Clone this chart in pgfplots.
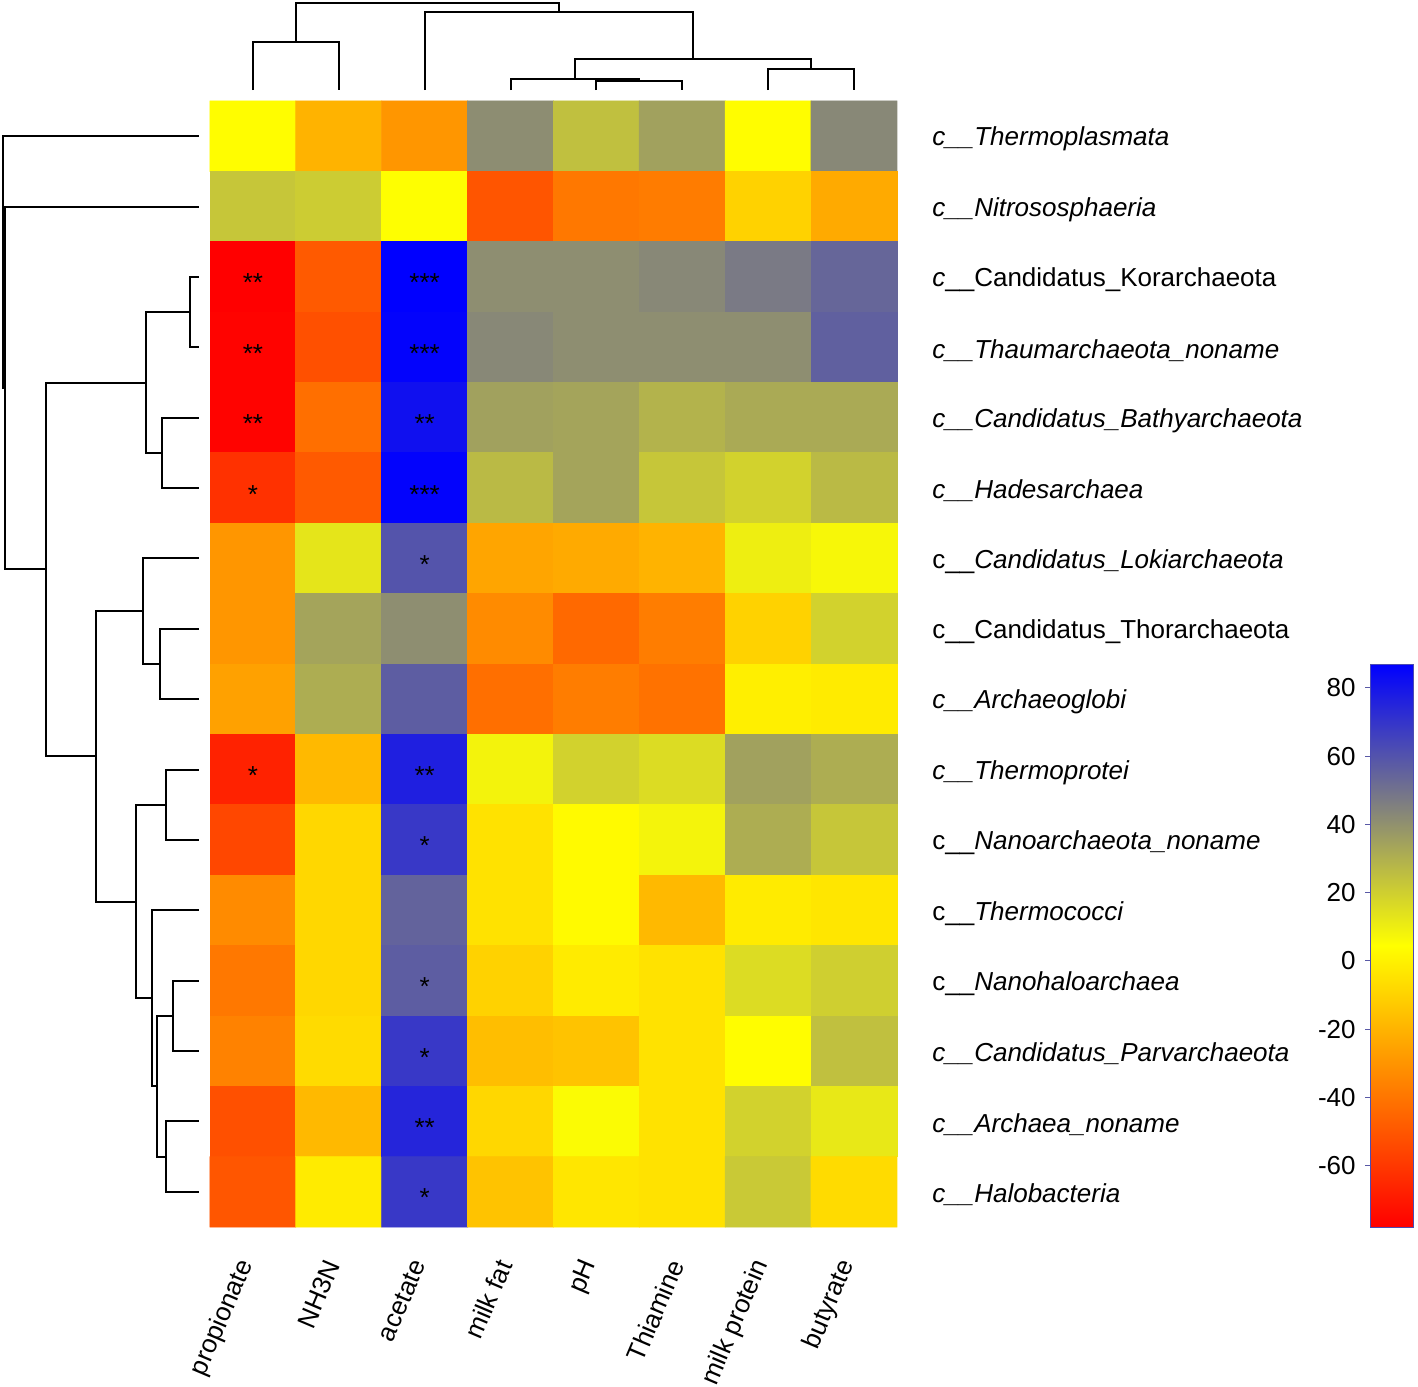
\documentclass[border=0pt]{standalone}
\usepackage{fontspec}
\setmainfont{Liberation Sans}
\usepackage{pgfplots}
\usepackage{pgfplotstable}
\pgfplotsset{compat=1.18}

% correlation matrix: x = column (variable), y = row (class)
\pgfplotstableread{
x y v
0 0 4
1 0 -20
2 0 -29.5
3 0 41.5
4 0 25
5 0 35
6 0 4
7 0 43
0 1 23
1 1 21
2 1 5
3 1 -50.5
4 1 -39
5 1 -38
6 1 -10
7 1 -23
0 2 -78
1 2 -49
2 2 87
3 2 41
4 2 41
5 2 43
6 2 47.5
7 2 54
0 3 -77
1 3 -52
2 3 86
3 3 43
4 3 41
5 3 41
6 3 41
7 3 56
0 4 -77
1 4 -42
2 4 82
3 4 35
4 4 34
5 4 29
6 4 32
7 4 32
0 5 -62
1 5 -49
2 5 86
3 5 27
4 5 34
5 5 23
6 5 19
7 5 27
0 6 -29.5
1 6 13
2 6 60
3 6 -24.5
4 6 -23
5 6 -20
6 6 10
7 6 7
0 7 -29.5
1 7 34
2 7 41
3 7 -33
4 7 -44
5 7 -37.5
6 7 -10
7 7 19
0 8 -26
1 8 31
2 8 57
3 8 -42
4 8 -37.5
5 8 -41
6 8 -0.5
7 8 -2
0 9 -67
1 9 -18
2 9 77
3 9 8.5
4 9 19
5 9 16
6 9 35
7 9 31
0 10 -55
1 10 -8.5
2 10 69
3 10 -5
4 10 3
5 10 8
6 10 31
7 10 23
0 11 -33
1 11 -8.5
2 11 55
3 11 -5
4 11 3
5 11 -18
6 11 -2
7 11 -3.5
0 12 -39
1 12 -8.5
2 12 57
3 12 -10
4 12 -2
5 12 -5
6 12 16
7 12 20
0 13 -36
1 13 -7
2 13 69
3 13 -16.5
4 13 -15
5 13 -5
6 13 4
7 13 25
0 14 -52
1 14 -18
2 14 75
3 14 -8.5
4 14 6
5 14 -5
6 14 19
7 14 12
0 15 -50
1 15 -2
2 15 69
3 15 -15
4 15 -3.5
5 15 -5
6 15 22
7 15 -7
}\heatdata

% significance marks
\pgfplotstableread{
x y lab
0 2 **
2 2 ***
0 3 **
2 3 ***
0 4 **
2 4 **
0 5 *
2 5 ***
2 6 *
0 9 *
2 9 **
2 10 *
2 12 *
2 13 *
2 14 **
2 15 *
}\stars

\newcommand{\lbl}{\fontsize{13}{15}\selectfont}

\begin{document}
\begin{tikzpicture}
\begin{axis}[
    name=main,
    scale only axis,
    width=343.5pt, height=563pt,
    xmin=-0.5, xmax=7.5, ymin=-0.5, ymax=15.5,
    y dir=reverse,
    enlargelimits=false,
    clip=false,
    axis line style={draw=none},
    major tick length=0pt,
    xtick={0,...,7},
    xticklabels={propionate,NH3N,acetate,milk fat,pH,Thiamine,milk protein,butyrate},
    xticklabel style={font=\lbl, inner sep=0pt, xshift=-3pt, yshift=-17pt, rotate=67, anchor=east},
    ytick={0,...,15},
    yticklabel pos=right,
    yticklabels={
        {\textit{c\_\_Thermoplasmata}},
        {\textit{c\_\_Nitrososphaeria}},
        {\textit{c}\_\_Candidatus\_Korarchaeota},
        {\textit{c\_\_Thaumarchaeota\_noname}},
        {\textit{c\_\_Candidatus\_Bathyarchaeota}},
        {\textit{c\_\_Hadesarchaea}},
        {c\_\_\textit{Candidatus\_Lokiarchaeota}},
        {c\_\_Candidatus\_Thorarchaeota},
        {\textit{c\_\_Archaeoglobi}},
        {\textit{c\_\_Thermoprotei}},
        {c\_\_\textit{Nanoarchaeota\_noname}},
        {c\_\_\textit{Thermococci}},
        {c\_\_\textit{Nanohaloarchaea}},
        {\textit{c\_\_Candidatus\_Parvarchaeota}},
        {\textit{c\_\_Archaea\_noname}},
        {\textit{c\_\_Halobacteria}}
    },
    yticklabel style={font=\lbl, inner sep=0pt, anchor=west, xshift=17.5pt, yshift=-1.5pt},
    colormap={heat}{rgb255=(255,0,0) rgb255=(255,255,0) rgb255=(0,0,255)},
    point meta min=-78, point meta max=87,
    colorbar,
    colorbar/width=21.5pt,
    colorbar shift/.style={xshift=236.5pt},
    colorbar style={
        at={(parent axis.south east)}, anchor=south west,
        scale only axis, height=281.5pt,
        ytick={-60,-40,-20,0,20,40,60,80},
        yticklabels={-60,-40,-20,0,20,40,60,80},
        yticklabel pos=left,
        ytick pos=left,
        tick align=outside,
        major tick length=2.5pt,
        tick style={gray!70!blue, line width=0.6pt},
        axis line style={draw=gray!60!blue, line width=0.4pt},
        yticklabel style={font=\lbl, inner sep=0pt, xshift=-4.5pt},
    },
]

\addplot[matrix plot*, mesh/cols=8, point meta=explicit]
    table[x=x, y=y, meta=v] {\heatdata};

\addplot[only marks, mark=none, point meta=explicit symbolic,
    nodes near coords,
    nodes near coords style={font=\lbl, anchor=center, inner sep=0pt, yshift=-3pt, text=black}]
    table[x=x, y=y, meta=lab] {\stars};

% column dendrogram
\addplot[black, line width=1pt, mark=none] coordinates {(0,-0.656) (0,-1.338) (1,-1.338) (1,-0.656)};
\addplot[black, line width=1pt, mark=none] coordinates {(4,-0.656) (4,-0.784) (5,-0.784) (5,-0.656)};
\addplot[black, line width=1pt, mark=none] coordinates {(3,-0.656) (3,-0.813) (4.5,-0.813) (4.5,-0.784)};
\addplot[black, line width=1pt, mark=none] coordinates {(6,-0.656) (6,-0.955) (7,-0.955) (7,-0.656)};
\addplot[black, line width=1pt, mark=none] coordinates {(3.75,-0.813) (3.75,-1.097) (6.5,-1.097) (6.5,-0.955)};
\addplot[black, line width=1pt, mark=none] coordinates {(2,-0.656) (2,-1.765) (5.125,-1.765) (5.125,-1.097)};
\addplot[black, line width=1pt, mark=none] coordinates {(0.5,-1.338) (0.5,-1.893) (3.5625,-1.893) (3.5625,-1.765)};

% row dendrogram
\addplot[black, line width=1pt, mark=none] coordinates {(-0.628,2) (-0.733,2) (-0.733,3) (-0.628,3)};
\addplot[black, line width=1pt, mark=none] coordinates {(-0.628,4) (-1.059,4) (-1.059,5) (-0.628,5)};
\addplot[black, line width=1pt, mark=none] coordinates {(-0.733,2.5) (-1.245,2.5) (-1.245,4.5) (-1.059,4.5)};
\addplot[black, line width=1pt, mark=none] coordinates {(-0.628,7) (-1.082,7) (-1.082,8) (-0.628,8)};
\addplot[black, line width=1pt, mark=none] coordinates {(-0.628,6) (-1.280,6) (-1.280,7.5) (-1.082,7.5)};
\addplot[black, line width=1pt, mark=none] coordinates {(-0.628,9) (-1.012,9) (-1.012,10) (-0.628,10)};
\addplot[black, line width=1pt, mark=none] coordinates {(-0.628,12) (-0.931,12) (-0.931,13) (-0.628,13)};
\addplot[black, line width=1pt, mark=none] coordinates {(-0.628,14) (-1.012,14) (-1.012,15) (-0.628,15)};
\addplot[black, line width=1pt, mark=none] coordinates {(-0.931,12.5) (-1.117,12.5) (-1.117,14.5) (-1.012,14.5)};
\addplot[black, line width=1pt, mark=none] coordinates {(-0.628,11) (-1.175,11) (-1.175,13.5) (-1.117,13.5)};
\addplot[black, line width=1pt, mark=none] coordinates {(-1.012,9.5) (-1.362,9.5) (-1.362,12.25) (-1.175,12.25)};
\addplot[black, line width=1pt, mark=none] coordinates {(-1.280,6.75) (-1.828,6.75) (-1.828,10.875) (-1.362,10.875)};
\addplot[black, line width=1pt, mark=none] coordinates {(-1.245,3.5) (-2.410,3.5) (-2.410,8.8125) (-1.828,8.8125)};
\addplot[black, line width=1pt, mark=none] coordinates {(-0.628,1) (-2.887,1) (-2.887,6.156) (-2.410,6.156)};
\addplot[black, line width=1pt, mark=none] coordinates {(-0.628,0) (-2.910,0) (-2.910,3.578) (-2.887,3.578)};

\coordinate (bbA) at (axis cs:-2.945,-1.935);
\coordinate (bbB) at (axis cs:13.567,17.759);
\end{axis}
\pgfresetboundingbox
\path[use as bounding box] (bbA) rectangle (bbB);
\end{tikzpicture}
\end{document}
